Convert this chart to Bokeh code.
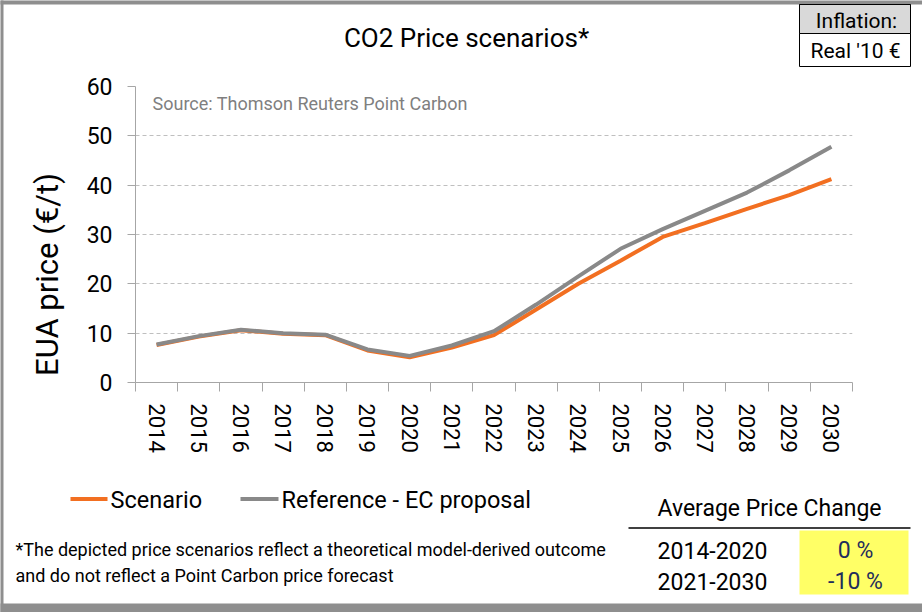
import math
from bokeh.plotting import figure
from bokeh.models import Range1d, FixedTicker, ColumnDataSource, BasicTickFormatter
from bokeh.embed import file_html
from bokeh.resources import INLINE
from bokeh.core.properties import value

# ---------------- data ----------------
years = list(range(2014, 2031))
scenario = [7.6, 9.3, 10.6, 9.9, 9.6, 6.5, 5.1, 7.1, 9.6, 14.8, 20.0, 24.7, 29.5, 32.3, 35.2, 38.0, 41.2]
reference = [7.7, 9.4, 10.7, 10.0, 9.7, 6.7, 5.4, 7.5, 10.4, 15.8, 21.5, 27.1, 31.1, 34.8, 38.5, 43.0, 47.8]
y_ticks = [0, 10, 20, 30, 40, 50, 60]
legend_labels = ["Scenario", "Reference - EC proposal"]
periods = ["2014-2020", "2021-2030"]
avg_change = ["0 %", "-10 %"]

FONT = "Roboto"
ORANGE = "#F26F21"
GREY = "#898989"
FRAME_GREY = "#8E8E8E"

W, H = 922, 612
FL, FR, FT, FB = 135, 852, 86, 382   # plot frame edges in page pixels

p = figure(width=W, height=H, output_backend="svg", toolbar_location=None,
           x_range=Range1d(2013.5, 2030.5), y_range=Range1d(0, 60),
           min_border_left=FL, min_border_right=W - FR, min_border_top=FT, min_border_bottom=H - FB)
p.outline_line_color = None
p.background_fill_color = "white"
p.border_fill_color = "white"

# pixel ranges for decorations (value == page pixel)
p.extra_x_ranges = {"px": Range1d(FL, FR)}
p.extra_y_ranges = {"px": Range1d(FB, FT)}

# x axis
xa = p.xaxis[0]
xa.ticker = FixedTicker(ticks=years, minor_ticks=[y - 0.5 for y in years] + [years[-1] + 0.5])
xa.formatter = BasicTickFormatter(use_scientific=False)
xa.major_label_orientation = "vertical"
xa.major_tick_line_color = None
xa.major_tick_out = 0
xa.major_tick_in = 0
xa.minor_tick_out = 9
xa.minor_tick_in = 0
xa.minor_tick_line_color = "#A6A6A6"
xa.axis_line_color = "#A6A6A6"
xa.major_label_standoff = 12
xa.major_label_text_font = FONT
xa.major_label_text_font_size = "22px"
xa.major_label_text_color = "#000000"

# y axis
ya = p.yaxis[0]
ya.ticker = FixedTicker(ticks=y_ticks)
ya.major_tick_out = 8
ya.major_tick_in = 0
ya.minor_tick_out = 0
ya.minor_tick_in = 0
ya.major_tick_line_color = "#A6A6A6"
ya.axis_line_color = "#A6A6A6"
ya.major_label_standoff = 15
ya.major_label_text_font = FONT
ya.major_label_text_font_size = "23px"
ya.major_label_text_color = "#000000"

p.xgrid.visible = False
p.ygrid.grid_line_color = "#BFBFBF"
p.ygrid.grid_line_dash = "4 3"
p.ygrid.grid_line_width = 1

src = ColumnDataSource(dict(year=years, scenario=scenario, reference=reference))
p.line("year", "scenario", source=src, line_color=ORANGE, line_width=4)
p.line("year", "reference", source=src, line_color=GREY, line_width=4)

PX = dict(x_range_name="px", y_range_name="px", level="overlay")


def txt(x, y, s, size, align="left", color="#000000", angle=0.0):
    p.text(x=[x], y=[y], text=[s], text_font=value(FONT), text_font_size=f"{size}px",
           text_align=align, text_baseline="middle", text_color=color, angle=angle, **PX)


def box(l, r, t, b, fill, line=None):
    p.quad(left=[l], right=[r], top=[t], bottom=[b], fill_color=fill,
           line_color=line, line_width=1, **PX)


def seg(x0, x1, y, color, width):
    p.segment(x0=[x0], x1=[x1], y0=[y], y1=[y], line_color=color, line_width=width, **PX)


# grey frame around the page
box(0, W, 0, 4, FRAME_GREY)
box(0, 3, 0, H, FRAME_GREY)
box(0, W, 603, H, FRAME_GREY)

# title
txt(466, 37, "CO2 Price scenarios*", 26, align="center")
# source
txt(152, 103, "Source: Thomson Reuters Point Carbon", 18, color="#7F7F7F")
# y axis label
txt(47, 274, "EUA price (€/t)", 31, align="center", angle=math.pi / 2)

# inflation box
box(799, 910, 4, 66, "white", "black")
box(799, 910, 4, 33, "#D9D9D9", "black")
txt(856, 20, "Inflation:", 21, align="center")
txt(855, 50, "Real '10 €", 21, align="center")

# legend
seg(70, 107, 498.5, ORANGE, 4)
txt(110, 499, legend_labels[0], 23.5)
seg(240, 278, 498.5, GREY, 4)
txt(281, 499, legend_labels[1], 23.5)

# footnote
txt(15, 549, "*The depicted price scenarios reflect a theoretical model-derived outcome", 18)
txt(15, 575, "and do not reflect a Point Carbon price forecast", 18)

# table
txt(769, 508, "Average Price Change", 23, align="center")
seg(628, 910, 527.5, "#000000", 1.5)
box(799, 908, 530, 594, "#FFFF66")
for i, (per, ch) in enumerate(zip(periods, avg_change)):
    yy = 550 + 31 * i
    txt(712, yy, per, 23, align="center")
    txt(855, yy, ch, 23, align="center", color="#1F2D5C")

open("out.html", "w").write(file_html(p, INLINE))
